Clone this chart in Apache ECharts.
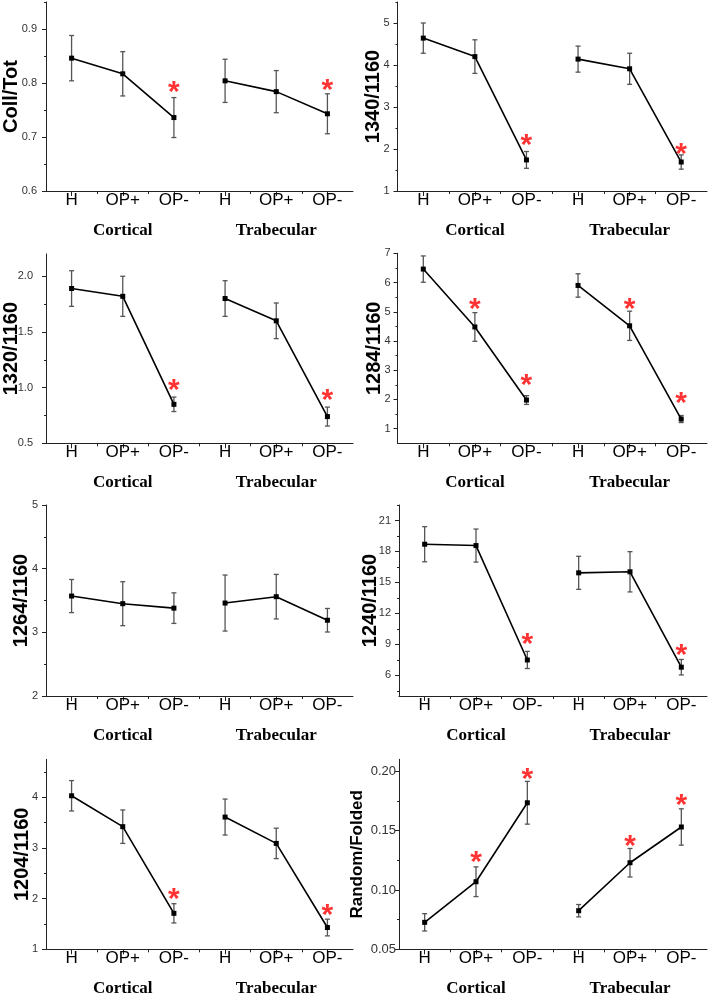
<!DOCTYPE html>
<html>
<head>
<meta charset="utf-8">
<script src="https://cdn.jsdelivr.net/npm/echarts@6/dist/echarts.min.js"></script>
<style>
  html, body { margin: 0; padding: 0; background: #fff; }
  #main { width: 709px; height: 994px; }
</style>
</head>
<body>
<div id="main"></div>
<script>
// x categories and groups
var conditions = ['H', 'OP+', 'OP-', 'H', 'OP+', 'OP-'];
var groups = ['Cortical', 'Trabecular'];

// Coll/Tot
var collTotMean = [0.846, 0.817, 0.736, 0.804, 0.784, 0.743];
var collTotSd = [0.042, 0.041, 0.037, 0.040, 0.039, 0.037];
var collTotStars = [[3, 0.793], [6, 0.797]];
var collTotTicks = [0.6, 0.7, 0.8, 0.9];

// 1340/1160
var r1340Mean = [4.64, 4.20, 1.74, 4.14, 3.91, 1.69];
var r1340Sd = [0.36, 0.40, 0.20, 0.31, 0.37, 0.17];
var r1340Stars = [[3, 2.21], [6, 2.0]];
var r1340Ticks = [1, 2, 3, 4, 5];

// 1320/1160
var r1320Mean = [1.89, 1.82, 0.85, 1.80, 1.60, 0.74];
var r1320Sd = [0.16, 0.18, 0.065, 0.16, 0.16, 0.085];
var r1320Stars = [[3, 1.03], [6, 0.94]];
var r1320Ticks = [0.5, 1.0, 1.5, 2.0];

// 1284/1160
var r1284Mean = [6.46, 4.48, 1.98, 5.90, 4.52, 1.33];
var r1284Sd = [0.45, 0.49, 0.15, 0.40, 0.50, 0.12];
var r1284Stars = [[2, 5.29], [3, 2.68], [5, 5.29], [6, 2.05]];
var r1284Ticks = [1, 2, 3, 4, 5, 6, 7];

// 1264/1160
var r1264Mean = [3.57, 3.45, 3.38, 3.46, 3.56, 3.19];
var r1264Sd = [0.26, 0.345, 0.24, 0.44, 0.35, 0.185];
var r1264Stars = [];
var r1264Ticks = [2, 3, 4, 5];

// 1240/1160
var r1240Mean = [18.70, 18.57, 7.49, 15.93, 16.03, 6.79];
var r1240Sd = [1.7, 1.6, 0.83, 1.6, 1.95, 0.75];
var r1240Stars = [[3, 9.59], [6, 8.45]];
var r1240Ticks = [6, 9, 12, 15, 18, 21];

// 1204/1160
var r1204Mean = [4.03, 3.42, 1.71, 3.61, 3.09, 1.43];
var r1204Sd = [0.30, 0.33, 0.19, 0.355, 0.30, 0.165];
var r1204Stars = [[3, 2.09], [6, 1.79]];
var r1204Ticks = [1, 2, 3, 4];

// Random/Folded
var randMean = [0.0727, 0.1069, 0.1734, 0.0825, 0.1229, 0.153];
var randSd = [0.0073, 0.0125, 0.018, 0.0052, 0.012, 0.0153];
var randStars = [[2, 0.128], [3, 0.198], [5, 0.1414], [6, 0.1757]];
var randTicks = [0.05, 0.10, 0.15, 0.20];

// panel layout (positions / styles)
var panels = [
    {name: 'Coll/Tot', mean: collTotMean, sd: collTotSd, stars: collTotStars, ticks: collTotTicks,
     min: 0.6, max: 0.95, dec: 1, left: 46, top: 2, width: 307, height: 189, nameGap: 25, nameSize: 20, labSize: 11, labMargin: 9},
    {name: '1340/1160', mean: r1340Mean, sd: r1340Sd, stars: r1340Stars, ticks: r1340Ticks,
     min: 1, max: 5.5, dec: 0, left: 397.5, top: 2, width: 309.5, height: 189, nameGap: 14, nameSize: 20, labSize: 11, labMargin: 8},
    {name: '1320/1160', mean: r1320Mean, sd: r1320Sd, stars: r1320Stars, ticks: r1320Ticks,
     min: 0.5, max: 2.2, dec: 1, left: 46, top: 254, width: 307, height: 189.3, nameGap: 25, nameSize: 20, labSize: 11, labMargin: 13},
    {name: '1284/1160', mean: r1284Mean, sd: r1284Sd, stars: r1284Stars, ticks: r1284Ticks,
     min: 0.5, max: 7, dec: 0, left: 397.5, top: 253.3, width: 309.5, height: 190, nameGap: 13, nameSize: 20, labSize: 11, labMargin: 7},
    {name: '1264/1160', mean: r1264Mean, sd: r1264Sd, stars: r1264Stars, ticks: r1264Ticks,
     min: 2, max: 5, dec: 0, left: 46, top: 505, width: 307, height: 191, nameGap: 15, nameSize: 20, labSize: 11, labMargin: 8},
    {name: '1240/1160', mean: r1240Mean, sd: r1240Sd, stars: r1240Stars, ticks: r1240Ticks,
     min: 4, max: 22.5, dec: 0, left: 399, top: 505, width: 308, height: 191, nameGap: 19, nameSize: 20, labSize: 11, labMargin: 8},
    {name: '1204/1160', mean: r1204Mean, sd: r1204Sd, stars: r1204Stars, ticks: r1204Ticks,
     min: 1, max: 4.75, dec: 0, left: 46, top: 759.3, width: 307, height: 190, nameGap: 14, nameSize: 20, labSize: 11, labMargin: 8},
    {name: 'Random/Folded', mean: randMean, sd: randSd, stars: randStars, ticks: randTicks,
     min: 0.05, max: 0.21, dec: 2, left: 399, top: 759.3, width: 308, height: 190, nameGap: 33, nameSize: 17, labSize: 13, labMargin: 3}
];

var axisColor = '#222';
var errColor = '#555';

// error bar drawing
function renderErr(params, api) {
    var x = api.value(0);
    var top = api.coord([x, api.value(2)]);
    var bot = api.coord([x, api.value(1)]);
    var w = 2.5;
    var st = {stroke: errColor, lineWidth: 1.3};
    return {
        type: 'group',
        children: [
            {type: 'line', shape: {x1: top[0], y1: top[1], x2: bot[0], y2: bot[1]}, style: st},
            {type: 'line', shape: {x1: top[0] - w, y1: top[1], x2: top[0] + w, y2: top[1]}, style: st},
            {type: 'line', shape: {x1: bot[0] - w, y1: bot[1], x2: bot[0] + w, y2: bot[1]}, style: st}
        ]
    };
}

function minorTicks(ticks, min, max) {
    var step = ticks[1] - ticks[0];
    var res = [];
    var start = ticks[0] - step / 2;
    for (var k = 0; k <= ticks.length; k++) {
        var v = Math.round((start + k * step) * 10000) / 10000;
        if (v > min + 1e-9 && v <= max + 1e-9) res.push(v);
    }
    return res;
}

var option = {
    animation: false,
    backgroundColor: '#fff',
    grid: [],
    xAxis: [],
    yAxis: [],
    series: []
};

panels.forEach(function (p, i) {
    option.grid.push({left: p.left, top: p.top, width: p.width, height: p.height,
        containLabel: false, outerBoundsMode: 'none'});

    // x axes: main ticks + labels, minor ticks, group labels
    option.xAxis.push({
        type: 'value', gridIndex: i, position: 'bottom', min: 0.5, max: 6.5,
        splitLine: {show: false},
        axisLine: {show: true, onZero: false, lineStyle: {color: axisColor, width: 1}},
        axisTick: {show: true, customValues: [1, 2, 3, 4, 5, 6], length: 5, lineStyle: {color: axisColor}},
        axisLabel: {
            customValues: [1, 2, 3, 4, 5, 6],
            formatter: function (v) { return conditions[Math.round(v) - 1]; },
            fontFamily: 'Liberation Sans', fontSize: 17, color: '#000', margin: 1
        }
    });
    option.xAxis.push({
        type: 'value', gridIndex: i, position: 'bottom', min: 0.5, max: 6.5,
        splitLine: {show: false},
        axisLine: {show: false, onZero: false},
        axisTick: {show: true, customValues: [1.5, 2.5, 3.5, 4.5, 5.5], length: 3, lineStyle: {color: axisColor}},
        axisLabel: {show: false}
    });
    option.xAxis.push({
        type: 'value', gridIndex: i, position: 'bottom', min: 0.5, max: 6.5,
        splitLine: {show: false},
        axisLine: {show: false, onZero: false},
        axisTick: {show: false},
        axisLabel: {
            customValues: [2, 5],
            formatter: function (v) { return v < 3 ? groups[0] : groups[1]; },
            fontFamily: 'Liberation Serif', fontWeight: 'bold', fontSize: 17, color: '#000', margin: 31
        }
    });

    // y axes: main + minor ticks
    option.yAxis.push({
        type: 'value', gridIndex: i, position: 'left', min: p.min, max: p.max,
        name: p.name, nameLocation: 'middle', nameGap: p.nameGap, nameMoveOverlap: false,
        nameTextStyle: {fontFamily: 'Liberation Sans', fontWeight: 'bold', fontSize: p.nameSize, color: '#000'},
        splitLine: {show: false},
        axisLine: {show: true, onZero: false, lineStyle: {color: axisColor, width: 1}},
        axisTick: {show: true, customValues: p.ticks, length: 4, lineStyle: {color: axisColor}},
        axisLabel: {
            customValues: p.ticks,
            formatter: function (v) { return v.toFixed(p.dec); },
            fontFamily: 'Liberation Sans', fontSize: p.labSize, color: '#333', margin: p.labMargin
        }
    });
    option.yAxis.push({
        type: 'value', gridIndex: i, position: 'left', min: p.min, max: p.max,
        splitLine: {show: false},
        axisLine: {show: false, onZero: false},
        axisTick: {show: true, customValues: minorTicks(p.ticks, p.min, p.max), length: 2, lineStyle: {color: axisColor}},
        axisLabel: {show: false}
    });

    var xi = i * 3, yi = i * 2;

    // error bars
    var errData = p.mean.map(function (m, k) { return [k + 1, m - p.sd[k], m + p.sd[k]]; });
    option.series.push({
        type: 'custom', xAxisIndex: xi, yAxisIndex: yi,
        renderItem: renderErr, data: errData, encode: {x: 0, y: [1, 2]}, z: 2
    });

    // lines per group
    [0, 1].forEach(function (g) {
        var d = [];
        for (var k = g * 3; k < g * 3 + 3; k++) d.push([k + 1, p.mean[k]]);
        option.series.push({
            type: 'line', xAxisIndex: xi, yAxisIndex: yi, data: d,
            symbol: 'rect', symbolSize: 5,
            itemStyle: {color: '#000'},
            lineStyle: {color: '#000', width: 1.6},
            z: 3
        });
    });

    // significance stars
    if (p.stars.length) {
        option.series.push({
            type: 'scatter', xAxisIndex: xi, yAxisIndex: yi, data: p.stars,
            symbolSize: 1, itemStyle: {color: 'rgba(0,0,0,0)'},
            label: {
                show: true, formatter: '*', position: 'inside',
                fontFamily: 'Liberation Sans', fontWeight: 'bold', fontSize: 30, color: '#ff0000',
                offset: [0, 6]
            },
            z: 4
        });
    }
});

var chart = echarts.init(document.getElementById('main'));
chart.setOption(option);
</script>
</body>
</html>
